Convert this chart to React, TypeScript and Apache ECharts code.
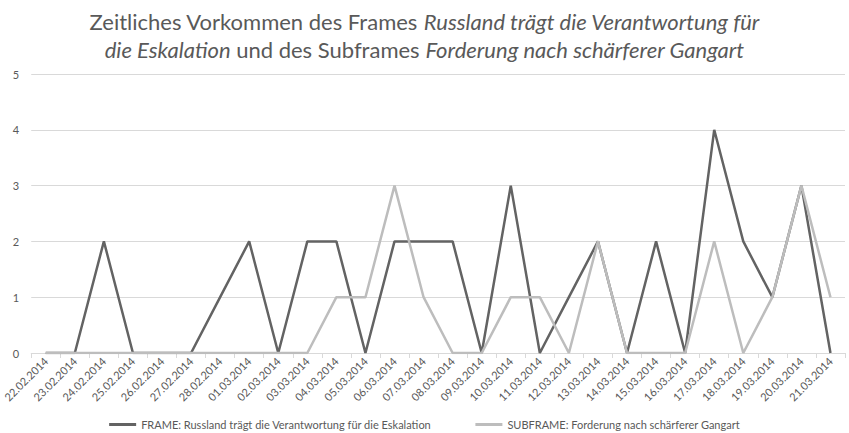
import React, { useEffect, useRef } from "react";
import * as echarts from "echarts";

const categories = [
  "22.02.2014", "23.02.2014", "24.02.2014", "25.02.2014", "26.02.2014", "27.02.2014", "28.02.2014",
  "01.03.2014", "02.03.2014", "03.03.2014", "04.03.2014", "05.03.2014", "06.03.2014", "07.03.2014",
  "08.03.2014", "09.03.2014", "10.03.2014", "11.03.2014", "12.03.2014", "13.03.2014", "14.03.2014",
  "15.03.2014", "16.03.2014", "17.03.2014", "18.03.2014", "19.03.2014", "20.03.2014", "21.03.2014",
];
const frameName = "FRAME: Russland trägt die Verantwortung für die Eskalation";
const subframeName = "SUBFRAME: Forderung nach schärferer Gangart";
const frameValues = [0, 0, 2, 0, 0, 0, 1, 2, 0, 2, 2, 0, 2, 2, 2, 0, 3, 0, 1, 2, 0, 2, 0, 4, 2, 1, 3, 0];
const subframeValues = [0, 0, 0, 0, 0, 0, 0, 0, 0, 0, 1, 1, 3, 1, 0, 0, 1, 1, 0, 2, 0, 0, 0, 2, 0, 1, 3, 1];

const FONT = "Lato, 'Liberation Sans', 'DejaVu Sans', sans-serif";
const TEXT = "#595959";

export default function App() {
  const ref = useRef<HTMLDivElement>(null);
  useEffect(() => {
    if (!ref.current) return;
    const chart = echarts.init(ref.current, undefined, { renderer: "svg" });
    chart.setOption({
      animation: false,
      backgroundColor: "#ffffff",
      title: {
        left: "center",
        top: 2,
        text:
          "{n|Zeitliches Vorkommen des Frames }{i|Russland trägt die Verantwortung für}\n{i|die Eskalation}{n| und des Subframes }{i|Forderung nach schärferer Gangart}",
        textStyle: {
          fontFamily: FONT,
          fontSize: 22,
          color: TEXT,
          fontWeight: "normal",
          lineHeight: 28,
          rich: {
            n: { fontFamily: FONT, fontSize: 22, color: TEXT, lineHeight: 28 },
            i: { fontFamily: FONT, fontSize: 22, color: TEXT, fontStyle: "italic", lineHeight: 28 },
          },
        },
      },
      legend: {
        top: 414,
        left: "center",
        itemWidth: 27,
        itemHeight: 3,
        itemGap: 44,
        icon: "rect",
        textStyle: { fontFamily: FONT, fontSize: 11, color: TEXT },
        data: [frameName, subframeName],
      },
      grid: { left: 30, right: 4, top: 74, bottom: 80 },
      xAxis: {
        type: "category",
        data: categories,
        boundaryGap: true,
        axisLine: { show: true, lineStyle: { color: "#d9d9d9", width: 1 } },
        axisTick: { show: true, length: 5, lineStyle: { color: "#d9d9d9" } },
        axisLabel: {
          rotate: 45,
          interval: 0,
          margin: 6,
          fontFamily: FONT,
          fontSize: 11,
          color: TEXT,
        },
      },
      yAxis: {
        type: "value",
        min: 0,
        max: 5,
        interval: 1,
        axisLine: { show: false },
        axisTick: { show: false },
        axisLabel: { fontFamily: FONT, fontSize: 11, color: TEXT, margin: 12 },
        splitLine: { lineStyle: { color: "#d9d9d9", width: 1 } },
      },
      series: [
        {
          name: frameName,
          type: "line",
          data: frameValues,
          symbol: "none",
          color: "#636363",
          lineStyle: { color: "#636363", width: 2.5 },
        },
        {
          name: subframeName,
          type: "line",
          data: subframeValues,
          symbol: "none",
          color: "#bdbdbd",
          lineStyle: { color: "#bdbdbd", width: 2.5 },
        },
      ],
    });
    return () => chart.dispose();
  }, []);
  return (
    <div
      ref={ref}
      style={{ position: "fixed", left: 0, top: 0, width: 849, height: 433 }}
    />
  );
}
